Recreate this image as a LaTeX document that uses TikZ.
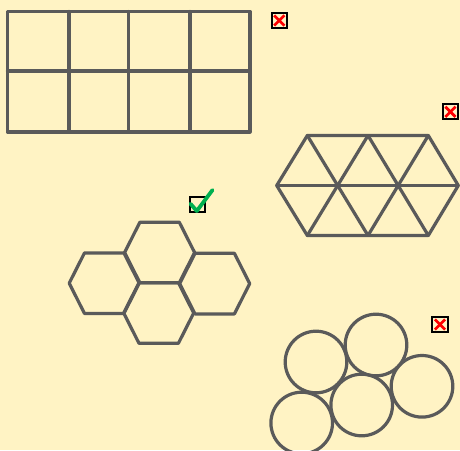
\documentclass[tikz,border=0pt]{standalone}
\usetikzlibrary{calc}
\definecolor{bg}{HTML}{FFF3C4}
\definecolor{shp}{HTML}{5A5A5A}
\definecolor{xred}{HTML}{FF0000}
\definecolor{ckgreen}{HTML}{00B050}
\tikzset{
  shape line/.style={draw=shp, line width=3.2pt, line join=round, line cap=round},
  cbox/.style={draw=black, line width=1.9pt, minimum size=15.5pt, inner sep=0pt, fill=bg},
  redx/.style={draw=xred, line width=2.7pt},
  greencheck/.style={draw=ckgreen, line width=3.8pt, line join=round, line cap=round},
}
\begin{document}
\begin{tikzpicture}[x=1pt,y=-1pt]
\useasboundingbox (0,0) rectangle (460,450);
\fill[bg] (0,0) rectangle (460,450);
\clip (0,0) rectangle (460,450);

% rectangle grid
\draw[shape line] (7.5,11.5) rectangle (250,132);
\draw[shape line] (7.5,71) -- (250,71);
\foreach \x in {69,128.5,190} \draw[shape line] (\x,11.5) -- (\x,132);

% triangle grid
\draw[shape line] (307.3,135.5) -- (428.3,135.5) -- (458.3,185.5) -- (428.3,235.5) -- (307.3,235.5) -- (276.7,185.5) -- cycle;
\draw[shape line] (276.7,185.5) -- (458.3,185.5);
\draw[shape line] (307.3,135.5) -- (368,235.5);
\draw[shape line] (368,135.5) -- (428.3,235.5);
\draw[shape line] (368,135.5) -- (307.3,235.5);
\draw[shape line] (428.3,135.5) -- (368,235.5);

% hexagons
\foreach \cx/\cy in {159.6/252.5, 104.2/283.2, 214.7/283.6, 158.7/313} {
  \draw[shape line] (\cx+35,\cy) -- (\cx+19.7,\cy+30.3) -- (\cx-19.7,\cy+30.3) -- (\cx-35,\cy)
     -- (\cx-19.7,\cy-30.3) -- (\cx+19.7,\cy-30.3) -- cycle;
}

% circles
\foreach \cx/\cy in {316/362, 376/345, 422/386.3, 361.7/405, 301.7/423} {
  \draw[shape line] (\cx,\cy) circle[radius=30.8];
}

% check boxes
\node[cbox] (b1) at (279.3,20.3) {};
\node[cbox] (b2) at (450.4,111.6) {};
\node[cbox] (b3) at (197.3,204.5) {};
\node[cbox] (b4) at (440,324.3) {};

\foreach \b in {b1,b2,b4} {
  \draw[redx] ([shift={(3.6,3.8)}]\b.north west) -- ([shift={(-3.6,-3.4)}]\b.south east);
  \draw[redx] ([shift={(-3.6,3.8)}]\b.north east) -- ([shift={(3.6,-3.4)}]\b.south west);
}
\coordinate (ck1) at (190.5,203.8);
\coordinate (ck2) at (196.8,211);
\coordinate (ck3) at (212.5,190);
\draw[greencheck] (ck1) -- (ck2) -- (ck3);
\end{tikzpicture}
\end{document}
